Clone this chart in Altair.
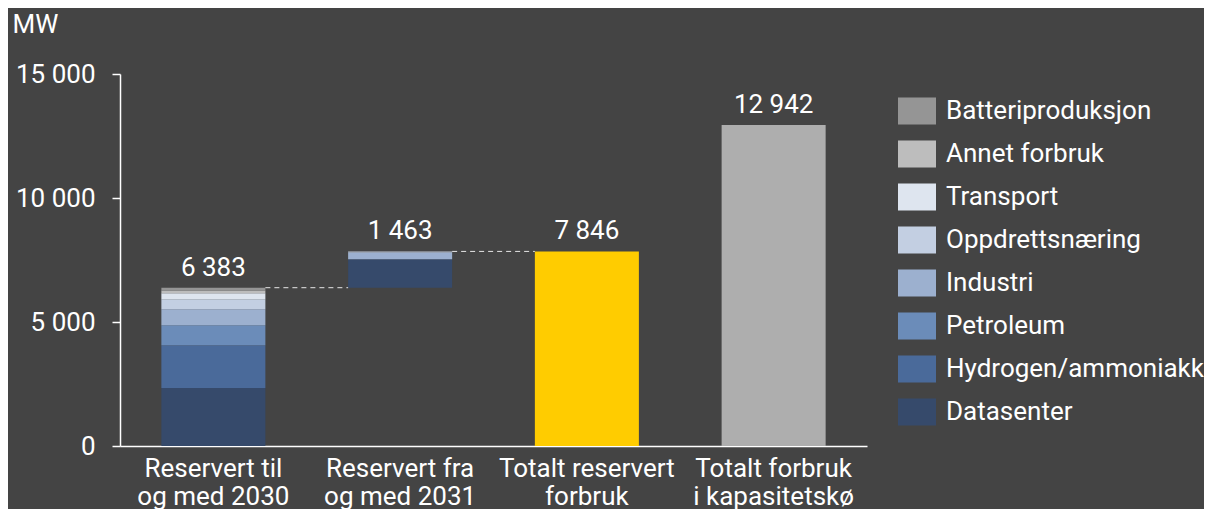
import altair as alt
import pandas as pd

# ---- data ----
categories = ["Reservert til|og med 2030", "Reservert fra|og med 2031",
              "Totalt reservert|forbruk", "Totalt forbruk|i kapasitetskø"]
segments = ["Datasenter", "Hydrogen/ammoniakk", "Petroleum", "Industri",
            "Oppdrettsnæring", "Transport", "Annet forbruk", "Batteriproduksjon"]
til_2030 = [2340, 1720, 810, 645, 400, 240, 120, 108]
fra_2031 = [1150, 0, 0, 265, 30, 18, 0, 0]
totalt_reservert = 7846
totalt_ko = 12942

legend_order = ["Batteriproduksjon", "Annet forbruk", "Transport", "Oppdrettsnæring",
                "Industri", "Petroleum", "Hydrogen/ammoniakk", "Datasenter"]
legend_colors = ["#959595", "#bdbdbd", "#dee5ef", "#c3cfe2",
                 "#9cb0cf", "#6b8cb9", "#4a6a9a", "#364a6b"]

# ---- build tables ----
rows = []
base = 0
for cat, vals in [(categories[0], til_2030), (categories[1], fra_2031)]:
    for seg, v in zip(segments, vals):
        if v > 0:
            rows.append({"cat": cat, "seg": seg, "y0": base, "y1": base + v})
        base += v
stack_df = pd.DataFrame(rows)

sum1 = sum(til_2030)
sum2 = sum(fra_2031)
totals_df = pd.DataFrame({"cat": [categories[2], categories[3]],
                          "value": [totalt_reservert, totalt_ko]})

def fmt(v):
    return f"{v:,}".replace(",", " ")

label_df = pd.DataFrame({
    "cat": categories,
    "top": [sum1, sum1 + sum2, totalt_reservert, totalt_ko],
    "label": [fmt(sum1), fmt(sum2), fmt(totalt_reservert), fmt(totalt_ko)],
})
conn_df = pd.DataFrame({"a": [categories[0], categories[1]],
                        "b": [categories[1], categories[2]],
                        "y": [sum1, sum1 + sum2]})

FONT = "Roboto"
WHITE = "#ffffff"

xscale = alt.Scale(domain=categories, paddingInner=0.443, paddingOuter=0.2215)
yscale = alt.Scale(domain=[0, 15000], nice=False)

xaxis = alt.Axis(title=None, ticks=False, labelAngle=0, labelPadding=9,
                 labelExpr="split(datum.label, '|')", labelLineHeight=28,
                 labelFontSize=26)
yaxis = alt.Axis(title="MW", values=[0, 5000, 10000, 15000], grid=False,
                 tickSize=8, labelPadding=17, labelFontSize=26,
                 labelExpr="replace(format(datum.value, ','), ',', ' ')",
                 titleAngle=0, titleX=-108, titleY=-42, titleAlign="left",
                 titleBaseline="alphabetic", titleFontSize=26,
                 titleFontWeight="normal", titleColor=WHITE)

stack = alt.Chart(stack_df).mark_bar().encode(
    x=alt.X("cat:N", scale=xscale, axis=xaxis, sort=categories),
    y=alt.Y("y0:Q", scale=yscale, axis=yaxis),
    y2="y1:Q",
    color=alt.Color("seg:N",
                    scale=alt.Scale(domain=legend_order, range=legend_colors),
                    legend=alt.Legend(title=None, orient="none", legendX=778,
                                      legendY=18, symbolType="M-1,-0.71H1V0.71H-1Z",
                                      symbolSize=1444, symbolStrokeWidth=0,
                                      symbolOpacity=1, labelFontSize=26,
                                      labelColor=WHITE, labelFont=FONT,
                                      labelOffset=10, rowPadding=10,
                                      labelLimit=400, padding=0)),
)

totals = alt.Chart(totals_df).mark_bar().encode(
    x=alt.X("cat:N", sort=categories),
    y="value:Q",
    color=alt.condition(alt.datum.cat == categories[2],
                        alt.value("#ffcc00"), alt.value("#aeaeae")),
)

conn = alt.Chart(conn_df).mark_rule(color="#e6e6e6", strokeDash=[5, 4],
                                    strokeWidth=1).encode(
    x=alt.X("a:N", bandPosition=1, sort=categories),
    x2=alt.X2("b:N", bandPosition=0),
    y="y:Q",
)

labels = alt.Chart(label_df).mark_text(baseline="alphabetic", dy=-12,
                                       fontSize=26, color=WHITE, font=FONT).encode(
    x=alt.X("cat:N", sort=categories),
    y="top:Q",
    text="label:N",
)

chart = alt.layer(stack, totals, conn, labels).properties(
    width=747, height=372,
    autosize=alt.AutoSizeParams(type="none"),
    padding={"left": 112, "top": 66, "right": 337, "bottom": 63},
    background="#444444",
).configure_view(stroke=None).configure_axis(
    labelColor=WHITE, domainColor=WHITE, tickColor=WHITE, domainWidth=1.5,
    tickWidth=1.5, labelFont=FONT, titleFont=FONT,
)

chart.save("out.html", embed_options={"renderer": "svg", "actions": False})
